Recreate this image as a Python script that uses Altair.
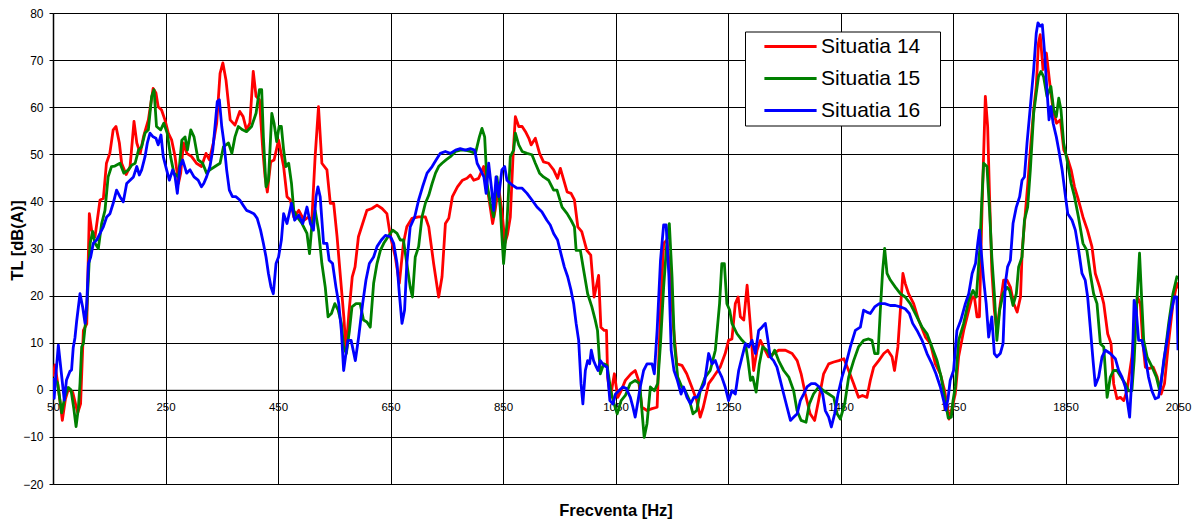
import altair as alt
import pandas as pd

SERIES = ["Situatia 14", "Situatia 15", "Situatia 16"]
COLORS = ["#ff0000", "#008000", "#0000ff"]

# Situatia 14 (red)
f14 = [50, 53.6, 60, 66.6, 72, 77, 85, 90, 94, 99, 104, 110, 114.6, 118.7, 124.7, 133.6, 139.5, 145, 151, 157,
       162, 168, 172, 180, 187, 194, 199, 205, 211, 219.5, 228, 233, 237, 243, 249, 255, 261, 267, 273, 277,
       282, 288, 296.5, 305, 314, 322, 328, 335, 341, 347, 352, 357.5, 365, 373.5, 382, 388, 394, 400, 406, 411,
       417, 423, 427, 431, 437, 443, 451, 460, 466, 472, 478, 487, 496, 504.5, 510, 516, 522, 528, 537, 543,
       549, 555, 561, 567, 571, 576, 582, 587, 593, 600.5, 608, 617, 626, 635, 643.6, 650, 658.6, 665.7, 673, 679,
       688, 700, 712, 718, 726.7, 735.6, 741.6, 747.6, 753.6, 760, 769, 778, 786, 792, 798, 806.7, 815.6, 824.5, 831.6, 836,
       842, 848, 853.6, 858, 863, 868, 872, 878, 884, 890, 896, 900, 907.5, 915, 922, 931, 940, 947, 952, 958,
       964, 971, 977, 983, 990, 999, 1006, 1012, 1020, 1024, 1030, 1034, 1036, 1041, 1048, 1054, 1060, 1067.5, 1077.5, 1085,
       1091, 1097, 1106, 1115, 1124, 1130, 1135.6, 1141.6, 1147.5, 1153, 1159, 1168, 1176.6, 1185.6, 1194.5, 1200.6, 1206, 1215.6, 1224, 1236,
       1245, 1251, 1257, 1263, 1268, 1272, 1278, 1284, 1290, 1295.6, 1301.6, 1307.5, 1313, 1322, 1331, 1340, 1352, 1364, 1373, 1380,
       1387.5, 1396, 1404, 1411, 1420, 1429, 1438, 1447, 1456, 1464.5, 1473.4, 1482, 1489, 1497, 1503, 1509, 1518, 1527, 1534, 1541.6,
       1546, 1552, 1557.6, 1561, 1565, 1571, 1580, 1589, 1601, 1610, 1618.6, 1627.5, 1635, 1643, 1648, 1654, 1660, 1669, 1678, 1684,
       1688, 1692.7, 1697, 1701.5, 1707.5, 1711.6, 1715, 1719, 1723.5, 1728, 1734, 1740, 1746, 1752, 1758, 1764, 1770, 1773, 1777, 1783,
       1787.5, 1793.4, 1798, 1802, 1805, 1810, 1816, 1822, 1828, 1834, 1841, 1847, 1852.7, 1860, 1866, 1873, 1881, 1889, 1897, 1903,
       1910.7, 1918, 1925, 1931, 1935.6, 1941.5, 1947.6, 1953.4, 1959.3, 1968, 1974, 1978, 1983, 1987.6, 1992, 1998, 2006, 2013, 2020, 2026,
       2033, 2041, 2048, 2050]
tl14 = [2.8, 5.3, 0, -6.5, -2, 0, -0.5, -3, -4.9, -3, 12.6, 14, 37.4, 33.9, 32.5, 40.3, 40.6, 48.1, 50.2, 55.2,
        55.9, 52.4, 48.1, 45.7, 47.4, 57, 52.4, 50.2, 53.8, 57.3, 64.0, 63, 60.1, 59.4, 57.3, 54.5, 53, 49.5, 43.8, 46,
        52.4, 50.2, 49.5, 48.1, 47.4, 50.2, 48.8, 52.4, 56.6, 67.2, 69.4, 65.8, 57.3, 56.2, 59.1, 58, 55.2, 56.6, 67.6, 62.3,
        61.6, 50.9, 45.2, 42, 48.4, 48.8, 53, 47.4, 41, 40.3, 36.7, 38.1, 36, 36.7, 35.7, 49.5, 60.1, 48.1, 46.7, 39.6,
        39.6, 32.5, 24, 15.5, 8.4, 16.2, 24, 26.1, 32.5, 35.3, 38.1, 38.5, 39.2, 38.5, 37.4, 32.5, 28.2, 22.6, 31.1, 34.6,
        36.4, 36.7, 36.7, 34.6, 26.8, 19.7, 24, 35.3, 36.4, 41, 43.1, 44.5, 44.9, 45.6, 44.5, 44.9, 47.4, 41, 35.3, 38.1,
        43.1, 38, 31.2, 33, 36.7, 50, 58, 55.9, 55.9, 54.8, 53.4, 52, 53.4, 50.2, 48.4, 48.1, 46.7, 44.9, 47, 44.5,
        42, 41.7, 40.3, 34.6, 33.6, 29.6, 28.6, 19.7, 24.3, 13.3, 12.6, 12.6, 2.7, -1.6, 3.4, -1.6, -0.2, 2, 3.4, 4.1,
        2, -3.7, -4.4, -4, -3.7, 16.9, 31.1, 31.8, 24, 13.3, 5.5, 5.2, 3.4, 0.6, -2.3, -5.8, -3.7, 1.3, 2.7, 4.8,
        7.7, 10.5, 10.8, 18.3, 19.7, 15.5, 14.8, 22.2, 13.3, 4.1, 8.4, 10.5, 9.1, 7, 7.7, 8.4, 8.4, 7.7, 6.2, 3.4,
        -0.9, -5.1, -6.5, -2.3, 3.4, 5.5, 5.9, 6.2, 6.6, 4.1, 1.3, -1.6, -1.2, -1.6, 2, 4.8, 6.2, 7.7, 8.4, 7,
        4.1, 9.1, 19, 24.7, 22.6, 20.4, 18.3, 14.8, 11.2, 9.8, 5.5, 3.4, -0.1, -6.2, -4, -0.9, 7, 12.6, 16.9, 19.7,
        19.7, 15.5, 15.5, 38.1, 62.3, 55.9, 41, 25.4, 16.9, 12.6, 18.3, 23.3, 23.3, 21.8, 18.3, 16.5, 19.7, 29.6, 35.3, 43.8,
        50.9, 59.4, 64.4, 73.6, 75.4, 68, 71.5, 65.1, 59.4, 56.6, 57.3, 50.9, 49.5, 46.7, 43.1, 40.3, 36.7, 33.9, 30.4, 24.7,
        21.8, 18.3, 11.9, 9.8, 1.3, -1.9, -1.6, -2.3, -0.2, 7, 15.5, 19.7, 18.3, 9.8, 4.8, 4.5, 4.8, 2.7, -0.9, 1.3,
        9.8, 18.3, 22.6, 21.5]

# Situatia 15 (green)
f15 = [50, 55, 58, 65.4, 71, 77, 82, 87, 91, 95, 98, 101, 104, 110, 116, 120.5, 124.7, 130.6, 136.5, 142.4,
       148, 154, 160, 169, 176, 184, 190, 196, 202, 207.6, 213.6, 219.5, 225.4, 229.6, 234, 241.4, 247, 253, 259, 265,
       273, 279, 284.7, 289, 295, 300.7, 308, 316, 323, 329, 338, 347, 353, 362, 368, 373.5, 379.5, 387, 394, 403,
       411, 417, 421, 424, 428.7, 433, 439, 443, 447.6, 452, 456, 460, 464, 469, 474, 478, 484, 492.7, 501.5, 506,
       510, 516, 522, 528, 534, 539, 545, 551, 557, 562.6, 566.7, 571.5, 577, 581.5, 588.7, 596, 602, 608, 614, 620,
       626, 632, 638, 645.6, 654, 661.6, 667.5, 673, 679, 685, 689, 694, 700, 706, 712, 718, 724, 730, 735.6, 741.6,
       748.7, 756.4, 765.6, 774, 783, 792, 801, 808, 812.6, 817.4, 821.6, 827.5, 833.4, 839.3, 845, 851, 857, 863, 869, 872,
       878, 884, 892.7, 901.5, 907.5, 915, 922, 931, 940, 946, 955, 964, 971, 977, 980, 987.5, 993.4, 1000.5, 1008, 1014,
       1018, 1023, 1029, 1035, 1041.6, 1047.6, 1053, 1060, 1067.5, 1076, 1085, 1093, 1097, 1101, 1106, 1112, 1119, 1125, 1130, 1135.6,
       1141.6, 1145.7, 1150.5, 1154.7, 1160.6, 1168, 1174, 1181.6, 1187.8, 1194.5, 1200.6, 1209.6, 1218.4, 1227.5, 1235, 1239, 1243.5, 1248, 1253, 1257,
       1266, 1275, 1281, 1285.6, 1290, 1294, 1300, 1305.7, 1311.6, 1319, 1327, 1333, 1340, 1349, 1358, 1366.7, 1372.7, 1380, 1388.7, 1394.6,
       1402, 1411, 1420, 1429, 1438, 1444, 1449.7, 1457.4, 1464.5, 1473.4, 1482, 1491, 1500, 1506, 1510.7, 1516.7, 1520.8, 1525, 1528.5, 1532.7,
       1538.6, 1547.5, 1556.4, 1565, 1574, 1583, 1595, 1603.8, 1612.6, 1621.6, 1629, 1636, 1641.6, 1647, 1650, 1654, 1660, 1669, 1678, 1685.6,
       1691.5, 1697.4, 1701.5, 1704.5, 1710.4, 1715, 1719, 1723.5, 1728, 1733, 1739, 1746, 1750.7, 1756.7, 1762.6, 1766.7, 1772.7, 1777, 1782.7, 1787.5,
       1793.4, 1798, 1802, 1806.4, 1811, 1817, 1824, 1829, 1833.7, 1838, 1842, 1846.7, 1852.7, 1860, 1866, 1873, 1881, 1888, 1894, 1900,
       1906, 1912, 1918, 1924, 1929.7, 1935.6, 1941.6, 1948.7, 1956.4, 1962, 1968, 1972, 1977, 1981.6, 1985.8, 1989, 1995, 2004, 2011.6, 2017.4,
       2024.6, 2033.4, 2041, 2048, 2050]
tl15 = [1.5, 2, 1.5, -4.9, -1.5, 0.5, 0, -4, -7.8, -4, 1.3, 9.1, 9.8, 16.9, 31.1, 33.6, 31.1, 30, 35.3, 38.1,
        45.2, 47.4, 47.5, 48.1, 46, 46.7, 47.7, 48.1, 50.9, 51.6, 54.5, 55.2, 62.3, 63.7, 55.9, 55.2, 56.6, 54.5, 49.5, 46,
        45.2, 53, 53.7, 50.9, 55.2, 53.7, 48.8, 48.1, 46, 46.7, 47.4, 48.1, 51.6, 52.4, 50.2, 53.7, 55.9, 55.2, 54.8, 55.9,
        58.7, 63.7, 63.7, 53.7, 43.1, 44.5, 58.7, 56.6, 52.7, 55.9, 55.9, 50.9, 47.4, 48.1, 43.8, 38.1, 36.7, 35.3, 33.2, 28.9,
        34.6, 38.1, 33.9, 26.8, 21.8, 15.5, 16.2, 18.3, 16.9, 14.1, 9.1, 7.7, 12.6, 17.6, 18.3, 18.3, 14.8, 14.4, 13.3, 22.6,
        26.8, 29.6, 31.1, 32.5, 33.9, 33.2, 31.8, 31.8, 26.8, 21.8, 19.7, 28.2, 30.4, 36.7, 39.6, 41.3, 43.8, 46, 47.4, 48.1,
        48.8, 49.5, 50.6, 50.9, 50.9, 50.6, 50.2, 53.7, 55.5, 53.7, 43.8, 39.6, 36.7, 45.2, 38.8, 26.8, 35.3, 49.5, 50.9, 54.5,
        52, 50.6, 50.2, 49.9, 48.1, 46, 45.2, 44.5, 42.4, 42.4, 38.8, 37.4, 36, 34.6, 29.6, 29.6, 25.4, 20.4, 17.6, 14.8,
        12.6, 3.4, 5.5, 5.2, -0.2, -3, -5.1, -2.3, -1.2, 1.3, 2, 1.3, -4.4, -10.1, -7.2, 0.6, -0.2, 1.3, 9.8, 21.8,
        31.8, 35.3, 24, 9.8, 2.7, 0.6, -0.2, -2.3, -5.1, -4.4, -0.2, 2.7, 4.1, 8.4, 18.3, 26.8, 26.8, 18.3, 16.9, 14.1,
        11.9, 10.5, 9.8, 6.2, 2, 2.7, -0.5, 5.5, 9.1, 8.4, 7, 8.4, 6.2, 4.1, 2.7, -0.2, -4.4, -6.5, -6.9, -3,
        -0.9, 0.6, -0.2, -0.9, -1.6, -5.1, -6.2, -3, 2.7, 6.2, 9.1, 10.5, 10.8, 10.5, 7.7, 7.7, 16.9, 25.4, 30, 24.7,
        23.3, 21.8, 20.4, 19.7, 18.3, 16.2, 13.3, 11.9, 9.1, 6.2, 2.7, -2.3, -6, -5.8, -2.3, 0.6, 10.5, 14.1, 19, 21.1,
        19.7, 29.6, 41, 48.1, 47.4, 38.1, 28.2, 20.4, 10.5, 16.9, 20.4, 21.8, 21.1, 17.9, 20.4, 26.1, 28.2, 36, 38.8, 46.7,
        58.7, 63, 66.5, 67.6, 66.5, 62.3, 64.4, 59.4, 58, 61.9, 59.4, 52.4, 48.8, 43.8, 41, 36.7, 31.1, 29.6, 24.7, 20.4,
        18.3, 9.8, 9.1, -1.6, 2.7, 4.1, 4.1, 2.7, 1.3, -0.2, -0.2, 6.2, 19, 29, 18.3, 10.5, 7, 4.8, 2.7, -0.2,
        5.5, 14.1, 20.4, 24, 23.5]

# Situatia 16 (blue)
f16 = [50, 52, 55, 59.5, 65, 70, 74, 80, 83, 86, 89, 92, 98, 102.7, 107, 110, 113, 117, 121.7, 127.6,
       133.6, 139.5, 145.4, 151.3, 157, 163, 169, 175, 181, 187, 193, 199, 203.5, 207.6, 213.6, 217.7, 222.4, 228, 233, 237,
       242, 246, 252, 256.8, 262.7, 267, 271, 275.8, 280.5, 287.6, 293.6, 300.7, 308, 314, 318, 323, 329, 334, 338, 342,
       345.7, 350, 354, 358.7, 363.5, 369, 375, 382, 388, 394, 400, 407, 413, 419, 424, 428.7, 433, 437.6, 441.7, 446.5,
       451, 456, 460, 466, 474, 479.6, 486.7, 494, 501.5, 507.5, 513, 517.6, 521, 525, 531, 537, 541, 547, 553, 558,
       562.6, 566.7, 570, 574.4, 580, 587.5, 593.4, 600.5, 606.4, 612.4, 620, 626, 633.7, 641, 650, 655.6, 661.6, 665.7, 670.4, 675,
       679, 685, 693, 700, 707, 715, 724, 731, 738.6, 747.5, 756.4, 765.6, 774, 783, 792, 799.6, 804, 810, 816, 820,
       824.5, 829.3, 833.4, 837.6, 842.4, 848, 853, 857, 866, 875, 884, 892.7, 901.5, 910.4, 919, 928, 934, 940, 947, 953,
       959, 965, 971, 975.6, 980, 984.5, 988.7, 992, 996.4, 1000.5, 1004, 1007, 1011, 1016, 1019, 1023, 1029, 1035, 1040, 1045.6,
       1050, 1056, 1063, 1069, 1076.4, 1081, 1085, 1089, 1094, 1100, 1106, 1115, 1119, 1124, 1130, 1135.6, 1140, 1145, 1149, 1154,
       1160, 1166.6, 1171, 1177, 1183.4, 1189.3, 1195, 1200.6, 1208, 1215.6, 1221.6, 1227.5, 1233.4, 1239, 1245, 1251, 1257, 1263, 1269, 1275,
       1281, 1287, 1292.7, 1298.6, 1304.5, 1310.4, 1316.4, 1321, 1325, 1331, 1337, 1343, 1349, 1355, 1361, 1367, 1373, 1378.6, 1384.5, 1390.4,
       1398, 1405, 1412.4, 1418.3, 1423, 1429, 1433.7, 1439.6, 1445.6, 1452.7, 1459.8, 1467.5, 1476.4, 1485.3, 1491, 1497, 1503, 1510.7, 1519, 1528.5,
       1538.6, 1547.5, 1556.4, 1565, 1572.4, 1578.3, 1586, 1595, 1603.8, 1612.6, 1619.7, 1627.5, 1633.4, 1637, 1641, 1645, 1651, 1657, 1664, 1672,
       1678, 1684, 1690, 1694, 1697, 1700, 1704.5, 1709, 1713.4, 1719, 1723.5, 1728, 1734, 1739, 1743, 1747, 1752, 1756.7, 1762.6, 1768.5,
       1772.7, 1777, 1781.6, 1787.5, 1793.4, 1798, 1801, 1805, 1808.8, 1812.4, 1817, 1820.7, 1824, 1828, 1833.7, 1838, 1844, 1850, 1854, 1861.6,
       1867.5, 1873.4, 1879.3, 1885, 1889.4, 1894, 1899, 1903, 1909, 1915, 1920.8, 1929.7, 1938.6, 1944.5, 1950.5, 1956.4, 1960.6, 1964, 1968, 1972,
       1975.7, 1980, 1986, 1991.7, 1997.6, 2003.5, 2009.5, 2015.4, 2019.7, 2024.6, 2030.5, 2036.4, 2043.5, 2048, 2050]
tl16 = [2.5, -1.8, 3, 9.5, 3.4, -2.2, 2.1, 3.9, 4.2, 9, 11, 14.5, 20.4, 17.6, 14.1, 18.3, 26.8, 28.2, 31.1, 31.8,
        33.2, 34.6, 36.7, 37.4, 39.6, 42.4, 41, 39.9, 43.8, 44.5, 45.2, 47.4, 45.6, 46.7, 49.5, 52.4, 54.5, 53.7, 53.4, 52,
        54.1, 49.5, 46.7, 44.5, 46.7, 45.2, 41.7, 47.4, 48.8, 46, 46.7, 45.2, 44.5, 43.1, 43.8, 45.2, 47.4, 50.9, 55.9, 61.2,
        61.6, 55.9, 52.4, 46.7, 42.4, 41, 41, 40.3, 39.2, 38.1, 37.8, 37.4, 36.4, 33.9, 31.1, 28.2, 24.7, 21.8, 20.4, 26.8,
        28.2, 31.8, 37.4, 35.3, 39.6, 36, 37.1, 35.3, 38.8, 35.3, 33.9, 41, 43.1, 41, 31.1, 31.1, 27.5, 26.8, 21.8, 18.3,
        12.6, 4.1, 7, 10.5, 10.5, 6.2, 11.2, 18.3, 23.3, 26.8, 28.2, 30.4, 31.8, 32.8, 32.5, 31.1, 26.8, 20.4, 14.1, 16.9,
        26.8, 34.6, 36.7, 40.3, 43.1, 46, 47.4, 48.8, 50.2, 50.6, 50.2, 50.9, 51.2, 50.9, 51.2, 50.9, 48.1, 46.7, 45.2, 41.7,
        48.1, 43.1, 38.1, 45.2, 41, 46.7, 47.4, 44.5, 43.5, 42.8, 42.8, 41.7, 40.3, 38.8, 37.8, 36, 35, 33.2, 31.8, 28.9,
        26.1, 24, 21.1, 18.3, 14.1, 10.5, 1.3, -3, 4.1, 6.2, 5.5, 8.4, 6.2, 4.8, 4.1, 6.2, 5.2, 4.8, -2.3, -3,
        -0.9, -0.2, 0.6, 0.3, -1.6, -3.7, -5.8, -3, 0.6, 4.1, 5.5, 5.5, 3.4, 12.6, 27.5, 35, 35, 24, 8.4, 4.1,
        2, -0.9, 0.6, -1.6, -3, -1.6, -1.6, -0.2, 1.3, 7.7, 5.5, 6.2, 4.1, 2.7, 0.6, -2.3, -0.2, -0.9, 4.1, 7,
        9.8, 9.1, 10.5, 7.7, 12.6, 13.3, 14.1, 10.5, 7, 6.2, 4.8, 2, -0.9, -3.7, -6.5, -5.8, -5.1, -2.3, -0.9, 0.6,
        1.3, 1.3, 0.6, -0.9, -4.4, -5.8, -7.9, -5.1, -0.9, 2.7, 5.5, 9.1, 12.6, 13.3, 16.9, 16.5, 16.2, 17.6, 18.3, 18.3,
        17.9, 17.9, 17.6, 17.2, 16.2, 14.1, 12.6, 10.5, 7.7, 5.5, 3.4, 0.6, -2.3, -4.3, -2, 2, 4.1, 12.6, 14.8, 18.3,
        20.4, 24.7, 26.8, 31.1, 33.9, 29.6, 23.3, 18.3, 11.2, 15.5, 7.7, 7, 7.7, 9.8, 22.6, 26.1, 27.5, 35.3, 38.8, 41,
        44.5, 45.2, 52.4, 60.1, 68, 75.7, 77.9, 77.2, 77.5, 72.2, 63.7, 57.3, 60.1, 56.6, 53.7, 50.9, 46.7, 41, 37.4, 36,
        33.9, 29.6, 24.7, 23.3, 19.7, 13.3, 6.2, 0.9, 2.7, 7, 8.4, 7.7, 6.6, 4.1, 2.7, 0.6, -3, -5.8, 2.7, 19,
        16.9, 10.5, 10.5, 7, 2.7, -0.2, -1.9, -1.6, 1.3, 6.2, 10.5, 15.5, 19.7, 19.7, 8.4]

X_TICKS = list(range(50, 2051, 200))
Y_TICKS = list(range(-20, 81, 10))

rows = []
for name, fs, ts in zip(SERIES, [f14, f15, f16], [tl14, tl15, tl16]):
    for f, t in zip(fs, ts):
        rows.append({"f": f, "tl": t, "serie": name})
df = pd.DataFrame(rows)

W, H = 1125, 471
FONT = "Liberation Sans"
PADCH = "\u2800"

chart = alt.Chart(df).mark_line(strokeWidth=2.8, strokeJoin="round", clip=True).encode(
    x=alt.X("f:Q",
            scale=alt.Scale(domain=[50, 2050], nice=False, zero=False),
            axis=alt.Axis(values=X_TICKS, format="d", title="Frecventa [Hz]", offset=-H * 0.2,
                          grid=True, gridColor="#000000", gridWidth=1,
                          domainColor="#000000", domainWidth=1,
                          tickColor="#000000", tickSize=4,
                          labelFont=FONT, labelFontSize=11.5, labelColor="#000000",
                          labelPadding=8, labelFlush=False, labelOverlap=False,
                          titleFont=FONT, titleFontSize=16.5, titleFontWeight="bold", titleColor="#000000",
                          titleX=W / 2, titleY=121, titleAlign="center", titleBaseline="middle")),
    y=alt.Y("tl:Q",
            scale=alt.Scale(domain=[-20, 80], nice=False, zero=False),
            axis=alt.Axis(values=Y_TICKS, format="d", title="TL [dB(A)]",
                          grid=True, gridColor="#000000", gridWidth=1,
                          domainColor="#000000", domainWidth=1.5,
                          tickColor="#000000", tickSize=4,
                          labelFont=FONT, labelFontSize=12, labelColor="#000000",
                          labelPadding=6, labelFlush=False, labelOverlap=False,
                          titleFont=FONT, titleFontSize=16.5, titleFontWeight="bold", titleColor="#000000",
                          titleX=-36, titleY=227, titleAngle=270, titleAlign="center", titleBaseline="middle")),
    color=alt.Color("serie:N", title=None,
                    scale=alt.Scale(domain=SERIES, range=COLORS),
                    legend=alt.Legend(orient="none", legendX=692, legendY=18.5, padding=4.5,
                                      fillColor="#ffffff", strokeColor="#000000",
                                      symbolType="M-2.9,0H2.9", symbolSize=324, symbolStrokeWidth=3,
                                      symbolOffset=30.5, labelOffset=20, rowPadding=10,
                                      labelFont=FONT, labelFontSize=21, labelColor="#000000",
                                      labelExpr="datum.label + '" + PADCH + "'")),
    order=alt.Order("f:Q"),
).properties(
    width=W, height=H,
    autosize=alt.AutoSizeParams(type="none"),
    padding={"left": 53, "top": 13, "right": 18, "bottom": 38},
).configure_view(
    stroke="#8c8c8c", strokeWidth=2
).configure(background="#ffffff")

chart.save("out.html", embed_options={"renderer": "svg", "actions": False})
